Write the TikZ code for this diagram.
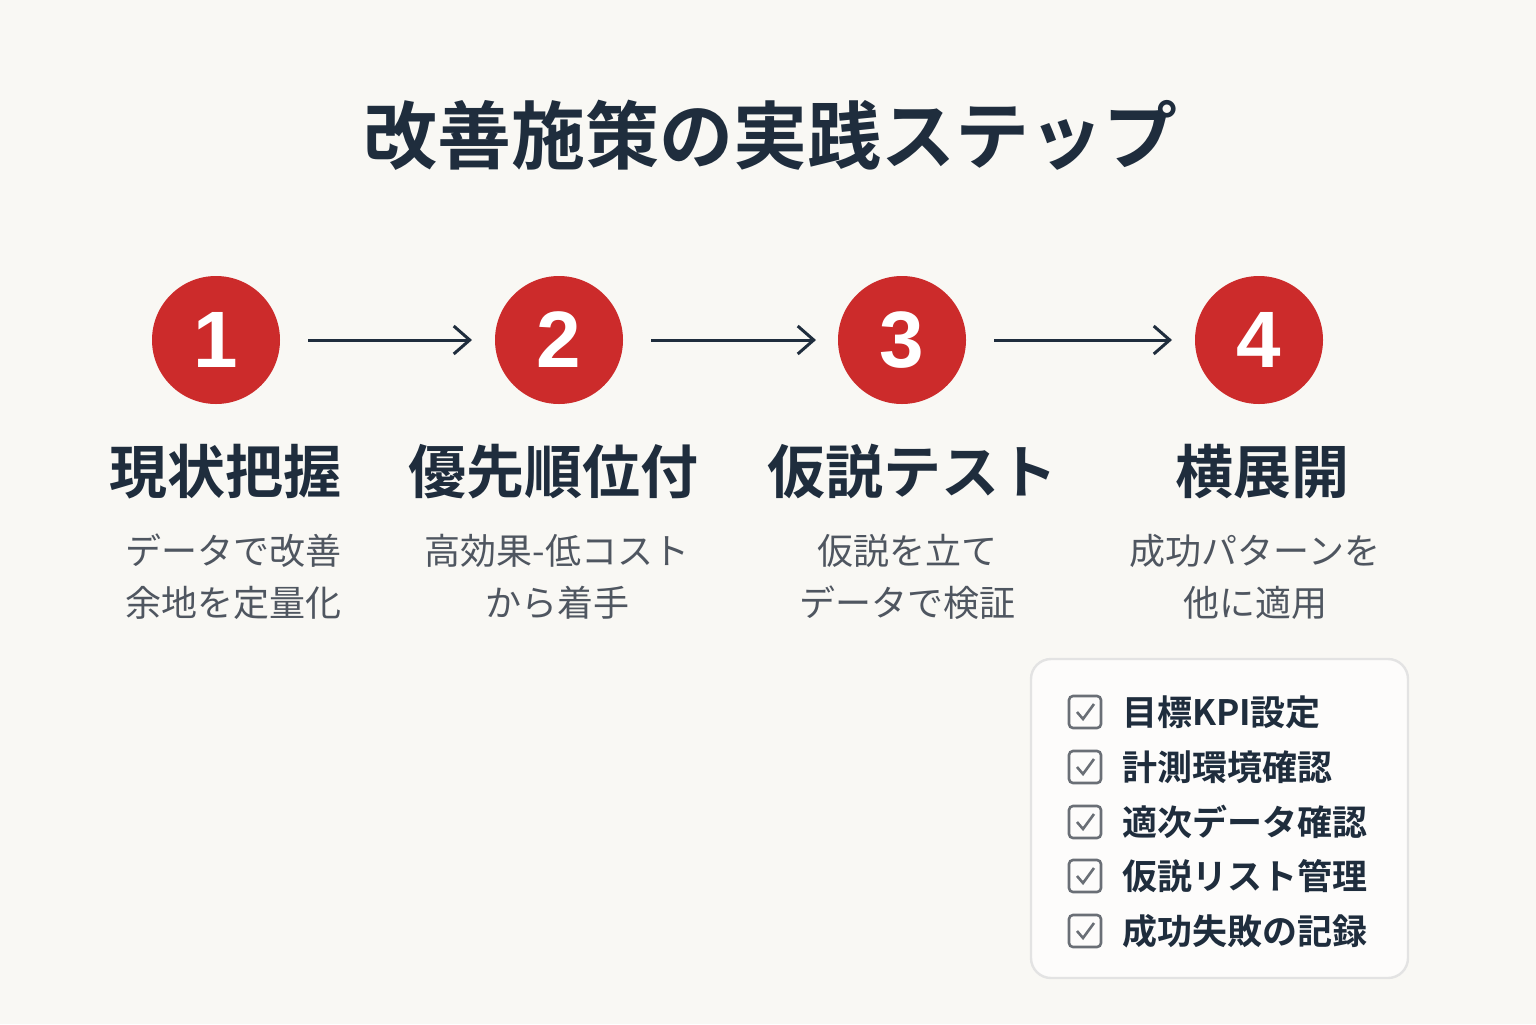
\documentclass[tikz,border=0pt]{standalone}
\usepackage{fontspec}
\setmainfont{Noto Sans CJK JP}
\newfontfamily\jpb{Noto Sans CJK JP Bold}
\newfontfamily\numf{Liberation Sans}
\usetikzlibrary{arrows.meta}
\definecolor{bg}{HTML}{F9F8F4}
\definecolor{navy}{HTML}{1F2D3D}
\definecolor{redc}{HTML}{CC2B2B}
\definecolor{subg}{HTML}{4F5660}
\definecolor{boxb}{HTML}{E3E3E3}
\definecolor{chk}{HTML}{6A6F76}
\tikzset{
 circ/.style={circle,fill=redc,minimum size=64pt,inner sep=0pt,text=white,font=\numf\bfseries\fontsize{40}{40}\selectfont},
 flow/.style={-{Straight Barb[length=8pt,width=14pt]},line width=1.5pt,draw=navy},
 head/.style={font=\jpb\fontsize{29}{32}\selectfont,text=navy},
 sub/.style={font=\fontsize{18}{26}\selectfont,text=subg,align=center},
 cbox/.style={draw=chk,line width=1.3pt,rounded corners=2pt,minimum size=16pt,inner sep=0pt},
 ctext/.style={anchor=west,font=\jpb\fontsize{17.5}{20}\selectfont,text=navy}
}
\begin{document}
\begin{tikzpicture}[x=0.5pt,y=-0.5pt]
\fill[bg] (0,0) rectangle (1536,1024);
\useasboundingbox (0,0) rectangle (1536,1024);
\node[font=\jpb\fontsize{37}{40}\selectfont,text=navy] (title) at (770,135) {改善施策の実践ステップ};
\node[circ] (c1) at (216,340) {1};
\node[circ] (c2) at (559,340) {2};
\node[circ] (c3) at (902,340) {3};
\node[circ] (c4) at (1259,340) {4};
\coordinate (a1s) at (308,340); \coordinate (a1e) at (472,340);
\coordinate (a2s) at (651,340); \coordinate (a2e) at (816,340);
\coordinate (a3s) at (994,340); \coordinate (a3e) at (1172,340);
\draw[flow] (a1s) -- (a1e);
\draw[flow] (a2s) -- (a2e);
\draw[flow] (a3s) -- (a3e);
\node[head] (h1) at (225,472) {現状把握};
\node[head] (h2) at (553,472) {優先順位付};
\node[head] (h3) at (912,472) {仮説テスト};
\node[head] (h4) at (1262,472) {横展開};
\node[sub] (s1) at (233,577) {データで改善\\余地を定量化};
\node[sub] (s2) at (557,577) {高効果-低コスト\\から着手};
\node[sub] (s3) at (907,577) {仮説を立て\\データで検証};
\node[sub] (s4) at (1255,577) {成功パターンを\\他に適用};
\draw[boxb,fill=white!60!bg,line width=1.2pt,rounded corners=10pt] (1031,659) rectangle (1408,978);
\foreach \y/\t [count=\i] in {712/目標KPI設定,767/計測環境確認,822/適次データ確認,876/仮説リスト管理,931/成功失敗の記録}{
 \node[cbox] (b\i) at (1085,\y) {};
 \draw[chk,line width=1.3pt] ([shift={(-8,0)}]b\i.center) -- ([shift={(-2,7)}]b\i.center) -- ([shift={(9,-8)}]b\i.center);
 \node[ctext] (t\i) at (1115,\y) {\t};
}
\end{tikzpicture}
\end{document}
